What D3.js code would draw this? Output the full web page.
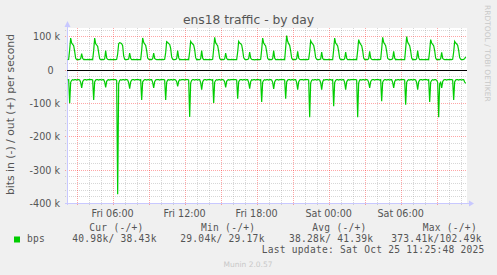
<!DOCTYPE html>
<html>
<head>
<meta charset="utf-8">
<script src="https://cdn.jsdelivr.net/npm/d3@7"></script>
<style>
  body { margin: 0; background: #f0f0f0; }
  svg { display: block; }
</style>
</head>
<body>
<div id="chart"></div>
<script>
// traffic in k bits/s, one value every 5 minutes from Fri 24 Oct 2025 02:15
const outK = [
  30,31,60,95,80,76,72,55,34,30,31,30,31,33,48,34,30,31,30,30,31,30,31,30,
  31,30,57,95,78,74,70,51,33,30,30,31,30,32,57,35,31,30,30,31,30,30,31,30,
  30,31,47,78,81,80,78,72,41,31,30,30,31,32,50,34,30,30,31,30,30,31,30,30,
  30,30,58,95,82,77,73,57,35,31,30,31,30,33,50,34,31,30,30,30,31,30,30,31,
  30,31,51,84,82,78,76,64,38,31,30,30,31,33,57,36,30,31,30,30,30,31,30,30,
  31,30,54,85,80,77,74,60,36,30,31,30,30,33,57,35,30,30,31,30,30,30,31,30,
  30,31,62,97,81,76,72,55,34,30,30,31,30,32,50,34,30,31,30,30,31,30,30,30,
  30,30,53,85,80,78,74,58,36,31,30,30,31,33,53,35,31,30,30,29.17,30,30,31,30,
  30,31,60,95,80,75,71,54,34,30,31,30,30,33,57,35,30,30,31,30,30,31,30,30,
  31,30,66,102.49,85,78,73,56,35,30,30,31,30,33,55,35,31,30,30,30,31,30,30,31,
  30,31,54,87,81,77,73,58,36,31,30,30,31,32,53,34,30,31,30,30,30,31,30,30,
  30,30,60,95,80,76,71,55,34,30,31,30,30,33,53,34,30,30,31,30,30,30,31,30,
  31,30,57,90,81,76,72,57,35,30,30,31,30,33,55,35,31,30,30,31,30,30,30,31,
  30,31,62,97,82,77,72,55,34,31,30,30,31,33,55,35,30,31,30,30,30,31,30,30,
  30,30,64,99,83,77,72,56,35,30,31,30,30,33,57,36,30,30,31,30,30,30,31,30,
  31,30,57,90,80,76,72,57,35,30,30,31,30,33,52,34,31,30,30,31,30,30,30,31,
  30,31,53,85,80,77,73,58,36,31,30,30,31,33,38.43
];
// inbound, drawn below zero
const inK = [
  31,30,101,38,32,30,31,30,30,31,30,30,31,38,55,36,31,30,30,31,30,30,29.04,30,
  30,31,91,37,31,30,30,31,30,30,31,30,30,37,53,35,31,30,31,30,30,30,29.5,30,
  30,32,373.41,42,32,30,31,30,30,31,30,30,31,39,57,37,31,30,30,31,30,30,29.5,30,
  31,30,91,37,32,30,30,31,30,30,31,30,30,38,55,36,31,30,30,30,31,30,29.5,30,
  30,31,91,38,31,30,31,30,30,31,30,30,31,36,50,35,30,31,30,30,30,31,29.5,30,
  30,31,142,40,32,30,30,31,30,30,31,30,30,39,60,37,31,30,30,31,30,30,29.5,30,
  31,30,100,38,32,30,31,30,30,31,30,30,31,37,53,35,31,30,31,30,30,30,29.5,30,
  30,31,87,37,31,30,30,31,30,30,31,30,30,38,57,36,30,31,30,30,31,30,29.5,30,
  31,30,97,38,32,30,31,30,30,31,30,30,31,38,58,37,31,30,30,31,30,30,29.5,30,
  30,31,87,37,31,30,30,31,30,30,31,30,30,39,60,37,31,30,30,30,31,30,29.5,30,
  30,31,143,40,32,30,31,30,30,31,30,30,31,39,60,37,30,31,30,30,30,31,29.5,30,
  31,30,110,39,32,30,30,31,30,30,31,30,30,39,60,37,31,30,31,30,30,30,29.5,30,
  30,31,143,40,31,30,31,30,30,31,30,30,31,38,55,36,31,30,30,31,30,30,29.5,30,
  31,30,95,38,32,30,30,31,30,30,31,30,30,38,55,36,30,31,30,30,31,30,29.5,30,
  30,31,105,38,32,30,31,30,30,31,30,30,31,39,60,37,31,30,30,31,30,30,29.5,30,
  31,30,97,38,32,30,31,30,30,32,38,143,42,38,55,36,31,30,30,31,30,30,29.5,30,
  30,31,91,37,31,30,30,31,30,30,31,30,30,37,40.98
];
const firstSample = new Date(2025, 9, 24, 2, 15);
const stepMinutes = 5;
const timeRange = [new Date(2025, 9, 24, 2, 11, 40), new Date(2025, 9, 25, 11, 31, 40)];
const yTicks = [100, 0, -100, -200, -300, -400];
const yTickLabels = ['100 k', '0', '-100 k', '-200 k', '-300 k', '-400 k'];
const xTickLabels = ['Fri 06:00', 'Fri 12:00', 'Fri 18:00', 'Sat 00:00', 'Sat 06:00'];
const legendHeader = ['Cur (-/+)', 'Min (-/+)', 'Avg (-/+)', 'Max (-/+)'];
const legendValues = ['40.98k/ 38.43k', '29.04k/ 29.17k', '38.28k/ 41.39k', '373.41k/102.49k'];
const seriesName = 'bps';
const lastUpdate = 'Last update: Sat Oct 25 11:25:48 2025';

const W = 497, H = 275;
const plot = {left: 67, right: 467, top: 28, bottom: 203};
const green = '#00cc00';
const textCol = '#555';
const sans = 'DejaVu Sans, sans-serif';
const mono = 'DejaVu Sans Mono, monospace';

const svg = d3.select('#chart').append('svg')
  .attr('width', W).attr('height', H);
svg.append('rect').attr('width', W).attr('height', H).attr('fill', '#f0f0f0');

// scales
const x = d3.scaleTime().domain(timeRange).range([plot.left, plot.right]);
const y = d3.scaleLinear().domain([-400, 125]).range([plot.bottom, plot.top]);
const snap = (v) => Math.round(v) + 0.5;
const sampleTime = (i) => new Date(firstSample.getTime() + i * stepMinutes * 60000);

// plot canvas
svg.append('rect')
  .attr('x', plot.left).attr('y', plot.top)
  .attr('width', plot.right - plot.left).attr('height', plot.bottom - plot.top)
  .attr('fill', '#fff');

// grid
const grid = svg.append('g').attr('stroke-dasharray', '1,1').attr('fill', 'none');
const minorY = d3.range(-380, 125, 20).filter((v) => v % 100 !== 0);
const majorY = yTicks.filter((v) => v !== -400);
const hours = d3.timeHour.range(timeRange[0], timeRange[1]);
const minorX = hours.filter((d) => d.getHours() % 3 !== 0);
const majorX = hours.filter((d) => d.getHours() % 3 === 0);
const minorCol = 'rgba(140,140,140,0.35)';
const majorCol = 'rgba(255,0,0,0.35)';

grid.selectAll('.minor-y').data(minorY).join('line')
  .attr('class', 'minor-y')
  .attr('x1', plot.left - 2).attr('x2', plot.right)
  .attr('y1', (d) => snap(y(d))).attr('y2', (d) => snap(y(d)))
  .attr('stroke', minorCol);
grid.selectAll('.minor-x').data(minorX).join('line')
  .attr('class', 'minor-x')
  .attr('x1', (d) => snap(x(d))).attr('x2', (d) => snap(x(d)))
  .attr('y1', plot.top).attr('y2', plot.bottom + 2)
  .attr('stroke', minorCol);
grid.selectAll('.major-y').data(majorY).join('line')
  .attr('class', 'major-y')
  .attr('x1', plot.left - 2).attr('x2', plot.right)
  .attr('y1', (d) => snap(y(d))).attr('y2', (d) => snap(y(d)))
  .attr('stroke', majorCol);
grid.selectAll('.major-x').data(majorX).join('line')
  .attr('class', 'major-x')
  .attr('x1', (d) => snap(x(d))).attr('x2', (d) => snap(x(d)))
  .attr('y1', plot.top).attr('y2', plot.bottom + 3)
  .attr('stroke', majorCol);

// axes with arrows
const axisCol = '#c8c8ff';
svg.append('line')
  .attr('x1', plot.left - 2).attr('x2', plot.right + 2)
  .attr('y1', plot.bottom + 0.5).attr('y2', plot.bottom + 0.5)
  .attr('stroke', axisCol);
svg.append('line')
  .attr('x1', plot.left + 0.5).attr('x2', plot.left + 0.5)
  .attr('y1', plot.bottom + 2).attr('y2', plot.top - 2)
  .attr('stroke', axisCol);
svg.append('path')
  .attr('d', `M${plot.right + 2},${plot.bottom - 2.5}L${plot.right + 7},${plot.bottom + 0.5}L${plot.right + 2},${plot.bottom + 3.5}Z`)
  .attr('fill', axisCol);
svg.append('path')
  .attr('d', `M${plot.left - 2.5},${plot.top - 1}L${plot.left + 0.5},${plot.top - 7}L${plot.left + 3.5},${plot.top - 1}Z`)
  .attr('fill', axisCol);

// zero line
svg.append('line')
  .attr('x1', plot.left).attr('x2', plot.right)
  .attr('y1', snap(y(0))).attr('y2', snap(y(0)))
  .attr('stroke', '#000');

// series
const line = d3.line()
  .x((d, i) => x(sampleTime(i)))
  .y((d) => y(d));
svg.append('path')
  .datum(outK)
  .attr('d', line)
  .attr('fill', 'none').attr('stroke', green).attr('stroke-width', 1.2);
svg.append('path')
  .datum(inK.map((v) => -v))
  .attr('d', line)
  .attr('fill', 'none').attr('stroke', green).attr('stroke-width', 1.2);

// y tick labels
svg.selectAll('.ylab').data(yTicks).join('text')
  .attr('class', 'ylab')
  .attr('x', (d) => d === 0 ? 53.5 : 60)
  .attr('y', (d) => snap(y(d)) + 3.3)
  .attr('text-anchor', 'end')
  .attr('font-family', sans).attr('font-size', 9.6).attr('fill', textCol)
  .text((d, i) => yTickLabels[i]);

// x tick labels
const labelTimes = hours.filter((d) => d.getHours() % 6 === 0);
svg.selectAll('.xlab').data(labelTimes).join('text')
  .attr('class', 'xlab')
  .attr('x', (d) => x(d))
  .attr('y', 216.5)
  .attr('text-anchor', 'middle')
  .attr('font-family', sans).attr('font-size', 9.6).attr('fill', textCol)
  .text((d, i) => xTickLabels[i]);

// title
svg.append('text')
  .attr('x', W / 2).attr('y', 23.5)
  .attr('text-anchor', 'middle')
  .attr('font-family', sans).attr('font-size', 12.3).attr('fill', textCol)
  .text('ens18 traffic - by day');

// vertical unit label
svg.append('text')
  .attr('transform', 'translate(13.5,114.5) rotate(-90)')
  .attr('text-anchor', 'middle')
  .attr('font-family', sans).attr('font-size', 10.8).attr('fill', textCol)
  .text('bits in (-) / out (+) per second');

// rrdtool watermark
svg.append('text')
  .attr('transform', 'translate(485,5) rotate(90)')
  .attr('font-family', sans).attr('font-size', 7.5).attr('fill', '#c8c8c8')
  .text('RRDTOOL / TOBI OETIKER');

// legend
const headerX = [89.3, 201, 312.3, 422.7];
const valueX = [72.3, 180.3, 289, 391.3];
const legend = svg.append('g')
  .attr('font-family', mono).attr('font-size', 9.6)
  .attr('letter-spacing', 0.25).attr('fill', textCol);
legend.selectAll('.lh').data(legendHeader).join('text')
  .attr('class', 'lh')
  .attr('x', (d, i) => headerX[i]).attr('y', 231)
  .text((d) => d);
legend.selectAll('.lv').data(legendValues).join('text')
  .attr('class', 'lv')
  .attr('x', (d, i) => valueX[i]).attr('y', 242)
  .text((d) => d);
svg.append('rect')
  .attr('x', 14).attr('y', 236.5).attr('width', 6).attr('height', 6)
  .attr('fill', green);
legend.append('text').attr('x', 27).attr('y', 242).text(seriesName);
legend.append('text').attr('x', 261.7).attr('y', 253).text(lastUpdate);

// munin watermark
svg.append('text')
  .attr('x', 248).attr('y', 267)
  .attr('text-anchor', 'middle')
  .attr('font-family', sans).attr('font-size', 7.5).attr('fill', '#c8c8c8')
  .text('Munin 2.0.57');
</script>
</body>
</html>
